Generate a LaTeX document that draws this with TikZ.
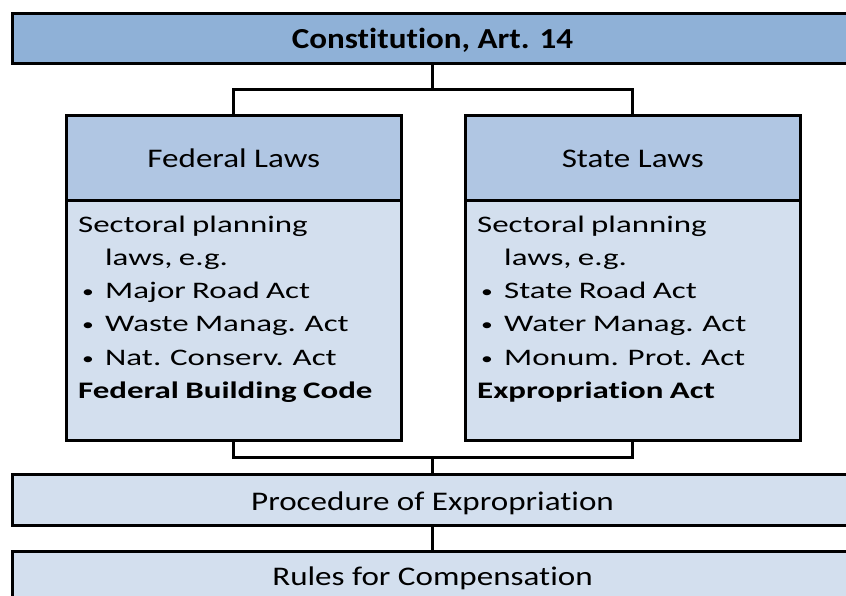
\documentclass[tikz,border=0pt]{standalone}
\usepackage{fontspec}
\setmainfont[Ligatures=NoCommon]{Carlito}
\newfontfamily\titlefont[FakeStretch=1.14,Ligatures=NoCommon]{Carlito}
\newfontfamily\headfont[FakeStretch=1.23,Ligatures=NoCommon]{Carlito}
\newfontfamily\bodyfont[FakeStretch=1.39,Ligatures=NoCommon,WordSpace=0.85]{Carlito}
\newcommand{\blt}{\makebox[23pt][l]{\fontsize{17}{17}\selectfont\raisebox{1pt}{•}}}
\definecolor{titlefill}{RGB}{143,177,215}
\definecolor{headfill}{RGB}{176,198,227}
\definecolor{bodyfill}{RGB}{211,223,238}
\begin{document}
\begin{tikzpicture}[x=1pt,y=-1pt,
  box/.style={draw=black, line width=3pt, rectangle, inner sep=0pt, outer sep=0pt},
  conn/.style={draw=black, line width=3pt},
  titletext/.style={anchor=base, inner sep=0pt, font=\titlefont\bfseries\fontsize{29}{29}\selectfont},
  headtext/.style={anchor=base, inner sep=0pt, font=\headfont\fontsize{26.9}{26.9}\selectfont},
  bodyline/.style={anchor=base west, inner sep=0pt, font=\bodyfont\fontsize{23.7}{23.7}\selectfont}]
\useasboundingbox (0,0) rectangle (846,596);
\clip (0,0) rectangle (846,596);
% boxes
\node[box, fill=titlefill, minimum width=840pt, minimum height=49.8pt] (const) at (432.5,38.6) {};
\node[box, fill=headfill, minimum width=335.5pt, minimum height=85pt] (fedhead) at (233.75,158.5) {};
\node[box, fill=bodyfill, minimum width=335.5pt, minimum height=239.5pt] (fedbody) at (233.75,320.75) {};
\node[box, fill=headfill, minimum width=335.5pt, minimum height=85pt] (statehead) at (632.75,158.5) {};
\node[box, fill=bodyfill, minimum width=335.5pt, minimum height=239.5pt] (statebody) at (632.75,320.75) {};
\node[box, fill=bodyfill, minimum width=840pt, minimum height=51.4pt] (proc) at (432.5,500) {};
\node[box, fill=bodyfill, minimum width=840pt, minimum height=51.4pt] (rules) at (432.5,577.4) {};
% connectors
\coordinate (jt) at (432.5,89.7);
\coordinate (jb) at (432.5,457.3);
\draw[conn] (const.south) -- (jt);
\draw[conn] (fedhead.north) |- (jt) -| (statehead.north);
\draw[conn] (fedbody.south) |- (jb) -| (statebody.south);
\draw[conn] (jb) -- (proc.north);
\draw[conn] (proc.south) -- (rules.north);
% texts
\node[titletext] (tconst) at (432.5,49) {Constitution, Art. 14};
\node[headtext] (tfed) at (233.75,167.3) {Federal Laws};
\node[headtext] (tstate) at (632.75,167.3) {State Laws};
\node[headtext] (tproc) at (432.5,510) {Procedure of Expropriation};
\node[headtext] (trules) at (432.5,585) {Rules for Compensation};
% federal body
\node[bodyline] (f1) at (78,232.3) {Sectoral planning};
\node[bodyline] (f2) at (105,265.5) {laws, e.g.};
\node[bodyline] (f3) at (82,298.7) {\blt Major Road Act};
\node[bodyline] (f4) at (82,331.9) {\blt Waste Manag. Act};
\node[bodyline] (f5) at (82,365.1) {\blt Nat. Conserv. Act};
\node[bodyline] (f6) at (78,398.3) {\bfseries Federal Building Code};
% state body
\node[bodyline] (s1) at (477,232.3) {Sectoral planning};
\node[bodyline] (s2) at (504,265.5) {laws, e.g.};
\node[bodyline] (s3) at (481,298.7) {\blt State Road Act};
\node[bodyline] (s4) at (481,331.9) {\blt Water Manag. Act};
\node[bodyline] (s5) at (481,365.1) {\blt Monum. Prot. Act};
\node[bodyline] (s6) at (477,398.3) {\bfseries Expropriation Act};
\end{tikzpicture}
\end{document}
